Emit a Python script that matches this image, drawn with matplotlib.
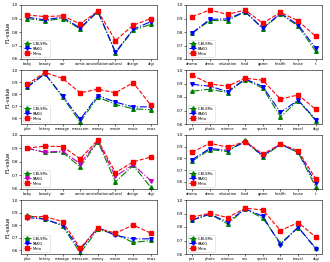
import matplotlib
matplotlib.use("Agg")
import matplotlib.pyplot as plt

cats_a = ["baby", "beauty", "car", "comic", "constellation", "cultural", "design", "digi"]
cats_b = ["drama", "dress", "education", "food", "game", "health", "house", "it"]
cats_c = ["joke", "lottery", "manage", "masscom", "money", "movie", "music", "news"]
cats_d = ["pet", "photo", "science", "sex", "sports", "star", "travel", "digi"]

# row 1
r1l_cb = [0.90, 0.882, 0.90, 0.823, 0.951, 0.644, 0.813, 0.857]
r1l_rk = [0.91, 0.89, 0.91, 0.83, 0.955, 0.65, 0.82, 0.877]
r1l_me = [0.926, 0.914, 0.92, 0.86, 0.955, 0.737, 0.85, 0.90]
r1r_cb = [0.79, 0.885, 0.885, 0.951, 0.823, 0.934, 0.843, 0.656]
r1r_rk = [0.794, 0.894, 0.897, 0.951, 0.828, 0.939, 0.853, 0.679]
r1r_me = [0.914, 0.963, 0.93, 0.963, 0.865, 0.946, 0.882, 0.767]
# row 2
r2l_cb = [0.862, 0.972, 0.774, 0.566, 0.774, 0.713, 0.677, 0.668]
r2l_rk = [0.856, 0.967, 0.785, 0.588, 0.787, 0.732, 0.693, 0.693]
r2l_me = [0.88, 0.98, 0.93, 0.81, 0.84, 0.81, 0.895, 0.707]
r2r_cb = [0.843, 0.858, 0.833, 0.929, 0.865, 0.654, 0.774, 0.625]
r2r_rk = [0.894, 0.88, 0.84, 0.934, 0.877, 0.686, 0.777, 0.632]
r2r_me = [0.961, 0.897, 0.88, 0.939, 0.924, 0.784, 0.816, 0.708]
# row 3
r3l_cb = [0.902, 0.87, 0.872, 0.762, 0.951, 0.652, 0.774, 0.61]
r3l_rk = [0.902, 0.872, 0.88, 0.786, 0.956, 0.693, 0.779, 0.66]
r3l_me = [0.902, 0.917, 0.914, 0.823, 0.963, 0.72, 0.80, 0.836]
r3r_cb = [0.777, 0.876, 0.859, 0.958, 0.811, 0.921, 0.851, 0.555]
r3r_rk = [0.79, 0.885, 0.87, 0.941, 0.825, 0.921, 0.854, 0.59]
r3r_me = [0.854, 0.93, 0.896, 0.944, 0.837, 0.924, 0.865, 0.625]
# row 4
r4l_cb = [0.878, 0.847, 0.794, 0.577, 0.765, 0.728, 0.661, 0.677]
r4l_rk = [0.86, 0.847, 0.80, 0.603, 0.78, 0.717, 0.69, 0.69]
r4l_me = [0.865, 0.868, 0.828, 0.616, 0.775, 0.735, 0.80, 0.735]
r4r_cb = [0.85, 0.897, 0.823, 0.934, 0.865, 0.68, 0.796, 0.644]
r4r_rk = [0.853, 0.894, 0.838, 0.934, 0.88, 0.669, 0.80, 0.637]
r4r_me = [0.872, 0.902, 0.87, 0.939, 0.926, 0.774, 0.833, 0.725]

panels = [
    (cats_a, r1l_cb, r1l_rk, r1l_me, 0.6, "b"),
    (cats_b, r1r_cb, r1r_rk, r1r_me, 0.6, "b"),
    (cats_c, r2l_cb, r2l_rk, r2l_me, 0.55, "b"),
    (cats_d, r2r_cb, r2r_rk, r2r_me, 0.6, "b"),
    (cats_a, r3l_cb, r3l_rk, r3l_me, 0.598, "m"),
    (cats_b, r3r_cb, r3r_rk, r3r_me, 0.54, "b"),
    (cats_c, r4l_cb, r4l_rk, r4l_me, 0.569, "b"),
    (cats_d, r4r_cb, r4r_rk, r4r_me, 0.6, "b"),
]

W, H = 330, 262
fig = plt.figure(figsize=(W / 100, H / 100), dpi=100)
tops = [5, 70, 135, 200]
lefts = [21, 186]
aw, ah = 136, 54

for i, (cats, cb, rk, me, ylo, rc) in enumerate(panels):
    r, c = divmod(i, 2)
    ax = fig.add_axes([lefts[c] / W, 1 - (tops[r] + ah) / H, aw / W, ah / H])
    x = range(len(cats))
    ax.plot(x, cb, color="g", linestyle="-.", marker="^", markersize=2.6, linewidth=0.8, label="C-BLSMs")
    ax.plot(x, rk, color=rc, linestyle="-.", marker="v", markersize=2.6, linewidth=0.8, label="RAKG")
    ax.plot(x, me, color="r", linestyle="--", marker="s", markersize=2.6, linewidth=0.8, label="Meta")
    ax.set_ylim(ylo, 1.0)
    ax.set_yticks([0.6, 0.7, 0.8, 0.9, 1.0])
    ax.set_xticks(list(x))
    ax.set_xticklabels(cats)
    ax.tick_params(axis="x", labelsize=2.6, length=1.2, width=0.4, pad=1)
    ax.tick_params(axis="y", labelsize=3.0, length=1.2, width=0.4, pad=1)
    for s in ax.spines.values():
        s.set_linewidth(0.4)
    if c == 0:
        ax.set_ylabel("F1-value", fontsize=3.6, labelpad=1)
    leg = ax.legend(loc="lower left", fontsize=2.6, handlelength=1.8, borderpad=0.4,
                    labelspacing=0.3, handletextpad=0.5, frameon=True)
    leg.get_frame().set_linewidth(0.4)

fig.savefig("out.png", dpi=100)
